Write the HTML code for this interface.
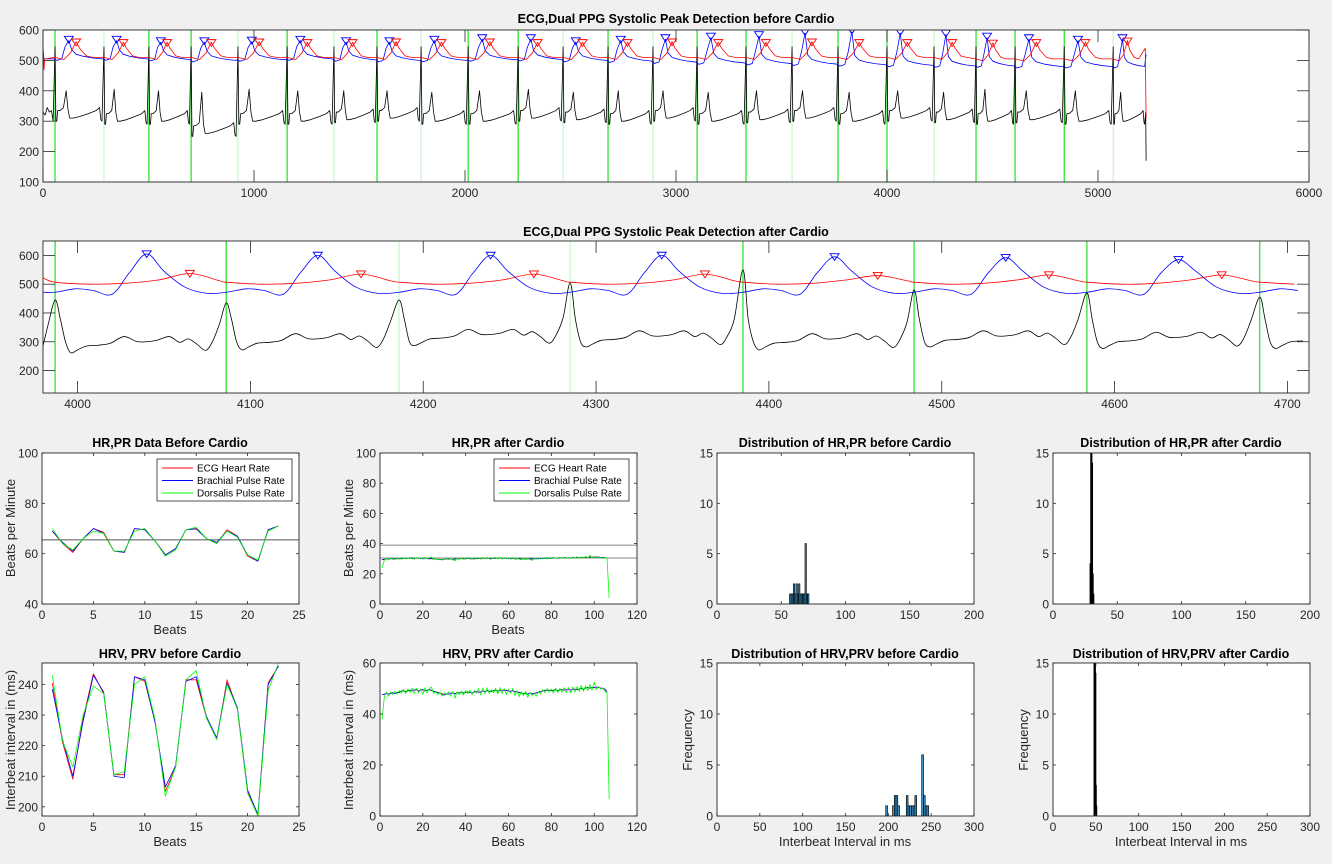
<!DOCTYPE html>
<html><head><meta charset="utf-8">
<style>
html,body{margin:0;padding:0;background:#f0f0f0;}
svg{display:block;font-family:"Liberation Sans",sans-serif;}
</style></head>
<body>
<svg id="fig" width="1332" height="864" viewBox="0 0 1332 864" xmlns="http://www.w3.org/2000/svg">
<rect x="0" y="0" width="1332" height="864" fill="#f0f0f0"/>
</svg>
<script>
// ---------- DATA ----------
// Top plot: ECG R-peak sample positions (before cardio)
const topPeaks = [57,289,502,702,924,1157,1379,1583,1792,2015,2252,2465,2678,2891,3100,3332,3550,3768,4000,4223,4422,4607,4840,5072];
const topBright = [1,0,1,1,0,1,0,1,0,1,1,0,1,0,1,1,0,1,1,0,1,1,1,0];
const topEcgBase = [310,300,300,260,300,300,305,310,300,300,310,305,300,310,300,305,310,300,310,305,300,305,300,300];
const topEcgT = [400,405,400,395,405,400,400,400,395,400,405,395,400,400,395,400,400,395,400,395,405,400,400,395];
const topBlueBase = [505,505,503,500,502,505,502,500,500,502,503,500,498,495,492,490,488,486,484,482,482,480,480,480];
const topBluePeak = [565,565,560,560,562,565,560,560,565,570,570,560,565,570,575,580,590,595,590,585,575,570,565,570];
const topRedBase = [505,505,505,505,505,505,505,505,505,505,505,505,505,505,505,505,505,505,505,505,500,500,500,500];
const topRedPeak = [562,560,560,560,562,560,560,562,560,562,560,560,560,562,560,560,562,560,560,560,558,560,560,565];
const topEnd = 5228;

// Second plot: after cardio
const p2Peaks = [3987,4086,4186,4285,4385,4484,4584,4684];
const p2Bright = [1,1,0,0,1,1,1,1];
const p2R = [445,435,445,505,550,480,470,455];
const p2Base = [0,10,25,20,10,20,15,15];
const p2BluePeak = [605,600,600,600,595,592,585];
const p2RedPeak = [537,535,535,535,530,532,532];

// HR, PR before
const hrB_ecg = [69,64,60.5,66,70,68.5,61,60.5,70,69.5,65,59.5,62,69.5,70,66,64,69.5,67,59,57,69.5,71];
const hrB_bra = [69,64.5,61,66,70,68,61,60.5,70,69.5,65,59.5,62,69.5,69.8,66,64.5,69,67,59.5,57,69.5,71];
const hrB_dor = [70,64,61.5,66,69,68,61,61,69,70,65,59,61.5,69.5,70.5,66,64,69,66.5,59.5,57.5,69,71];
const hrB_mean = 65.5;

// HR, PR after
const hrA_ecg = [29.5,29.6,29.8,29.7,29.9,30.0,29.8,30.1,30.0,30.2,30.3,30.1,30.2,30.4,30.3,30.2,30.5,30.3,30.1,30.2,30.4,30.2,30.0,30.1,29.8,29.7,29.6,29.5,29.4,29.6,29.8,29.7,29.9,29.6,29.8,30.0,29.9,30.1,30.0,29.9,30.2,30.1,30.0,29.9,30.0,30.2,30.1,30.3,30.2,30.4,30.3,30.1,30.2,30.4,30.3,30.5,30.2,30.4,30.3,30.2,30.1,30.3,30.0,29.9,30.1,29.8,29.7,29.9,29.8,30.0,29.9,29.8,30.1,30.0,30.2,30.1,30.3,30.2,30.4,30.3,30.5,30.4,30.3,30.6,30.5,30.7,30.6,30.4,30.5,30.7,30.6,30.8,30.7,30.9,30.8,31.0,30.9,31.1,31.0,31.2,31.1,31.0,30.9,30.8,30.7,30.6];
const hrA_bra = [29.3,29.5,29.9,29.6,30.0,30.1,29.7,30.2,29.9,30.3,30.2,30.0,30.3,30.5,30.2,30.1,30.6,30.2,30.0,30.3,30.5,30.1,29.9,30.2,29.7,29.8,29.5,29.4,29.5,29.7,29.9,29.6,30.0,29.5,29.9,30.1,29.8,30.2,29.9,30.0,30.3,30.0,29.9,30.0,30.1,30.3,30.0,30.4,30.1,30.5,30.2,30.0,30.3,30.5,30.2,30.6,30.1,30.5,30.2,30.3,30.0,30.4,29.9,30.0,30.2,29.7,29.8,29.8,29.9,30.1,29.8,29.9,30.2,29.9,30.3,30.0,30.4,30.1,30.5,30.2,30.6,30.3,30.4,30.7,30.4,30.8,30.5,30.5,30.4,30.8,30.5,30.9,30.6,31.0,30.7,31.1,30.8,31.2,30.9,31.3,31.0,31.1,30.8,30.9,30.6,30.5];
const hrA_dor = [24,29.0,30.2,29.3,30.3,29.6,30.5,29.8,30.4,29.6,30.7,29.8,30.6,30.0,31.0,29.5,30.9,29.9,30.5,29.7,31.0,29.8,30.6,31.2,29.4,30.0,29.2,29.8,29.0,29.9,30.1,29.3,30.3,29.2,28.6,30.4,29.5,30.5,29.6,30.3,30.6,29.7,30.2,29.6,30.4,30.6,29.7,30.8,29.8,30.9,29.9,29.7,30.6,30.9,29.8,31.0,29.7,30.9,29.9,30.7,29.6,30.8,29.5,30.4,29.7,29.3,30.2,29.4,30.3,29.5,28.9,30.3,29.7,30.5,29.8,30.6,29.9,30.8,29.9,30.6,30.9,30.1,30.6,31.0,30.1,31.1,30.2,30.9,30.0,31.2,30.2,31.3,30.4,31.1,30.5,31.5,30.4,32.2,30.6,31.4,30.7,30.8,30.7,30.4,30.6,30.3,4];
const hrA_lines = [30.5,39];

// HRV before
const hrvB_ecg = [240.5,221,209,229,243.5,237,210.5,210.5,242.5,241,228,205,213,241.5,241.5,229,222,241.5,232,205,197,240.5,246];
const hrvB_bra = [238.5,222,210,228,243,237.5,210,209.5,242.5,241.5,227.5,206.5,213.5,241,242.5,229.5,222.5,240.5,232.5,205.5,197.5,240,246];
const hrvB_dor = [243,221.5,213,230,239.5,237,210.5,211.5,240,242.5,228.5,203.5,213,241.5,244.5,229,222,240,232,204.5,197,238,247];

// HRV after
const hrvA_ecg = [47.5,47.8,48.0,47.9,48.2,48.3,48.1,48.4,48.6,49.0,49.2,48.8,49.0,49.3,49.1,49.4,49.6,49.2,49.3,49.5,49.1,49.3,49.6,49.2,49.0,48.7,48.5,48.2,47.9,47.6,47.8,47.9,48.1,48.3,48.0,48.2,48.4,48.6,48.3,48.5,48.7,48.4,48.3,48.6,48.8,48.5,48.7,49.0,48.8,49.1,49.0,48.8,49.2,49.3,49.0,49.2,49.4,49.1,49.3,49.0,48.9,49.1,48.8,48.6,48.5,48.2,48.0,48.1,47.9,48.2,48.0,48.1,48.3,48.6,48.8,49.0,49.3,49.2,49.4,49.1,49.3,49.5,49.2,49.4,49.6,49.3,49.5,49.7,49.4,49.6,49.8,49.5,49.8,50.0,49.7,50.2,50.4,50.1,50.5,50.3,50.6,50.4,50.2,50.0,49.8,48.5];
const hrvA_bra = [47.6,47.7,48.2,47.8,48.0,48.4,48.0,48.5,48.4,49.1,49.0,48.7,49.1,49.4,49.0,49.5,49.5,49.0,49.4,49.6,49.0,49.4,49.5,49.3,48.9,48.8,48.4,48.3,47.8,47.4,47.9,47.8,48.2,48.2,47.9,48.3,48.3,48.7,48.2,48.6,48.6,48.5,48.2,48.7,48.7,48.6,48.6,49.1,48.7,49.2,48.9,48.9,49.1,49.4,48.9,49.3,49.3,49.2,49.2,49.1,48.8,49.2,48.7,48.7,48.4,48.3,47.9,48.2,47.8,48.3,47.9,48.2,48.2,48.7,48.7,49.1,49.2,49.3,49.3,49.2,49.2,49.6,49.1,49.5,49.5,49.4,49.4,49.8,49.3,49.7,49.7,49.6,49.7,50.1,49.6,50.3,50.3,50.2,50.4,50.4,50.5,50.5,50.1,50.1,49.7,48.6];
const hrvA_dor = [38,46.5,48.6,47.0,48.7,47.6,48.9,47.8,49.2,48.2,49.6,48.0,49.8,48.4,50.2,48.0,50.1,48.3,49.9,47.7,50.3,48.2,49.9,50.6,48.0,48.8,47.6,48.6,47.0,48.3,47.6,48.7,47.0,48.9,46.2,48.8,47.6,49.0,47.4,49.2,48.0,49.3,47.6,49.2,48.2,50.0,47.5,50.2,47.9,50.3,48.0,49.6,48.2,50.1,47.8,50.4,48.1,50.0,47.6,49.8,48.0,50.1,47.2,49.2,46.8,48.8,47.2,48.9,46.5,48.6,47.3,48.0,47.0,48.7,47.8,49.6,48.3,50.0,48.6,49.8,48.2,50.2,48.4,50.1,48.5,50.3,48.4,50.4,48.2,50.6,48.6,50.7,48.8,51.2,49.0,51.0,49.2,51.6,49.3,52.5,49.5,50.8,49.8,50.2,49.0,48.2,6.5];

// Histograms
const histHrB_bins = [57,58,59,60,61,62,63,64,65,66,67,68,69,70,71];
const histHrB_cnt = [1,1,1,2,1,2,1,2,1,1,1,1,6,1,1];
const histHrA_bins = [29,29.5,30,30.5,31,31.5];
const histHrA_cnt = [4,15,15,14,3,1];
const histHrvB_bins = [198,206,208,210,212,222,224,226,228,230,232,240,242,244,246];
const histHrvB_cnt = [1,1,2,2,1,2,1,1,1,1,2,6,2,1,1];
const histHrvA_bins = [48,48.5,49,49.5,50,50.5];
const histHrvA_cnt = [15,15,15,14,3,1];

// ---------- HELPERS ----------
const svg = document.getElementById('fig');
const NS = 'http://www.w3.org/2000/svg';
function mk(tag, attrs, parent){
  const e = document.createElementNS(NS, tag);
  for (const k in attrs) e.setAttribute(k, attrs[k]);
  (parent||svg).appendChild(e);
  return e;
}
function txt(s, x, y, size, anchor, weight, parent){
  const t = mk('text', {x:x, y:y, 'font-size':size, 'text-anchor':anchor||'middle', fill:'#262626', 'font-weight':weight||'normal'}, parent);
  t.textContent = s;
  return t;
}
function makeAxes(name, x0, y0, x1, y1, xlim, ylim, xticks, yticks, tickLen){
  const g = mk('g', {});
  
  
  const bg = mk('rect', {x:x0, y:y0, width:x1-x0, height:y1-y0, fill:'#fff'}, g);
  
  
  const sx = v => x0 + (v - xlim[0]) / (xlim[1] - xlim[0]) * (x1 - x0);
  const sy = v => y1 - (v - ylim[0]) / (ylim[1] - ylim[0]) * (y1 - y0);
  const clipId = name + '-clip';
  const cp = mk('clipPath', {id: clipId}, g);
  mk('rect', {x:x0, y:y0, width:x1-x0, height:y1-y0}, cp);
  const data = mk('g', {'clip-path':'url(#' + clipId + ')'}, g);
  
  
  const deco = mk('g', {}, g);
  return {g, data, deco, sx, sy, x0, y0, x1, y1, xticks, yticks, tickLen, name};
}
function finishAxes(a){
  const {deco, sx, sy, x0, y0, x1, y1, xticks, yticks, tickLen} = a;
  const xt = mk('g', {}, deco);
  
  
  xticks.forEach(v => {
    const x = sx(v);
    mk('line', {x1:x, y1:y1, x2:x, y2:y1 - tickLen, stroke:'#262626', 'stroke-width':0.8}, xt);
    mk('line', {x1:x, y1:y0, x2:x, y2:y0 + tickLen, stroke:'#262626', 'stroke-width':0.8}, xt);
    txt(String(v), x, y1 + 15, 12, 'middle', 'normal', xt);
  });
  const yt = mk('g', {}, deco);
  
  
  yticks.forEach(v => {
    const y = sy(v);
    mk('line', {x1:x0, y1:y, x2:x0 + tickLen, y2:y, stroke:'#262626', 'stroke-width':0.8}, yt);
    mk('line', {x1:x1, y1:y, x2:x1 - tickLen, y2:y, stroke:'#262626', 'stroke-width':0.8}, yt);
    txt(String(v), x0 - 4, y + 4.5, 12, 'end', 'normal', yt);
  });
  const box = mk('rect', {x:x0, y:y0, width:x1-x0, height:y1-y0, fill:'none', stroke:'#262626', 'stroke-width':0.9}, deco);
  
  
}
function poly(a, pts, color, w, name){
  const d = pts.map((p,i) => (i ? 'L' : 'M') + a.sx(p[0]).toFixed(2) + ',' + a.sy(p[1]).toFixed(2)).join('');
  const p = mk('path', {d:d, fill:'none', stroke:color, 'stroke-width':w||0.8, 'stroke-linejoin':'round'}, a.data);
  
  
  return p;
}
function smooth(a, pts, color, w, name){
  const P = pts.map(p => [a.sx(p[0]), a.sy(p[1])]);
  let d = 'M' + P[0][0].toFixed(2) + ',' + P[0][1].toFixed(2);
  for (let i = 0; i < P.length - 1; i++){
    const p0 = P[Math.max(0,i-1)], p1 = P[i], p2 = P[i+1], p3 = P[Math.min(P.length-1,i+2)];
    const c1 = [p1[0] + (p2[0]-p0[0])/6, p1[1] + (p2[1]-p0[1])/6];
    const c2 = [p2[0] - (p3[0]-p1[0])/6, p2[1] - (p3[1]-p1[1])/6];
    d += 'C' + c1[0].toFixed(2) + ',' + c1[1].toFixed(2) + ' ' + c2[0].toFixed(2) + ',' + c2[1].toFixed(2) + ' ' + p2[0].toFixed(2) + ',' + p2[1].toFixed(2);
  }
  const p = mk('path', {d:d, fill:'none', stroke:color, 'stroke-width':w||0.8}, a.data);
  
  
  return p;
}
function tri(a, xv, yv, color, name){
  const x = a.sx(xv), y = a.sy(yv), s = 4.5;
  const t = mk('path', {d:`M${x-s},${y-s*0.7}L${x+s},${y-s*0.7}L${x},${y+s*0.8}Z`, fill:'none', stroke:color, 'stroke-width':0.9}, a.data);
  
  
}
function vline(a, xv, color, w, name){
  const x = a.sx(xv);
  const l = mk('line', {x1:x, y1:a.y0, x2:x, y2:a.y1, stroke:color, 'stroke-width':w}, a.data);
  
  
}
function hline(a, yv, color, name){
  const y = a.sy(yv);
  const l = mk('line', {x1:a.x0, y1:y, x2:a.x1, y2:y, stroke:color, 'stroke-width':1}, a.data);
  
  
}
function series(arr){ return arr.map((v,i) => [i+1, v]); }
function titleText(s, x, y, name){
  const t = txt(s, x, y, 12.5, 'middle', 'bold');
  t.setAttribute('fill', '#000');
  
  
}
function labelText(s, x, y, name, rot){
  const t = txt(s, x, y, 13, 'middle', 'normal');
  if (rot) t.setAttribute('transform', `rotate(-90 ${x} ${y})`);
  
  
}
function legend(x, y, name){
  const g = mk('g', {});
  
  
  mk('rect', {x:x, y:y, width:135, height:42, fill:'#fff', stroke:'#262626', 'stroke-width':0.8}, g);
  const items = [['ECG Heart Rate','#ff0000'],['Brachial Pulse Rate','#0000ff'],['Dorsalis Pulse Rate','#00ff00']];
  items.forEach((it, i) => {
    const yy = y + 9 + i * 12.5;
    const e = mk('g', {}, g);
    
    
    mk('line', {x1:x+5, y1:yy, x2:x+36, y2:yy, stroke:it[1], 'stroke-width':1}, e);
    txt(it[0], x+40, yy+3.5, 10, 'start', 'normal', e).setAttribute('fill','#000');
  });
}
function bars(a, bins, counts, width, fill, name){
  bins.forEach((b, i) => {
    const xL = a.sx(b - width/2), xR = a.sx(b + width/2);
    const r = mk('rect', {x:xL, y:a.sy(counts[i]), width:Math.max(xR-xL,0.8), height:a.sy(0)-a.sy(counts[i]), fill:fill, stroke:'#000', 'stroke-width':0.7}, a.data);
    
    
  });
}

// ---------- TOP PLOT ----------
(function(){
  const a = makeAxes('ppg-before-plot', 43, 30, 1309, 182, [0,6000], [100,600], [0,1000,2000,3000,4000,5000,6000], [100,200,300,400,500,600], 12);
  topPeaks.forEach((p,i) => vline(a, p, topBright[i] ? '#22e022' : '#bdf5bd', topBright[i] ? 1.2 : 1, 'peak-marker-line'));
  const ecg = [[0,330],[10,320],[20,345],[30,330],[40,335],[48,300]];
  const blue = [[0,540],[4,505]], red = [[0,545],[5,470],[8,505]];
  const ecgOff = [4,8,12,22,38,50,58,66,80,110,150,185,200,206,211];
  const ecgDel = [-10,-10,25,25,35,0,30,0,0,5,15,25,35,-5,-10];
  for (let i = 0; i < topPeaks.length; i++){
    const r = topPeaks[i];
    const nxt = i+1 < topPeaks.length ? topPeaks[i+1] : topEnd;
    const sc = (nxt - r) / 220;
    const b = topEcgBase[i];
    ecg.push([r, 545]);
    ecgOff.forEach((o,k) => {
      const x = r + o * sc;
      if (x < nxt && x <= topEnd) ecg.push([x, k === 5 ? topEcgT[i] : b + ecgDel[k]]);
    });
    const bb = topBlueBase[i], bp = topBluePeak[i];
    [[0,bb],[8,bb-5],[30,bb],[45,bb+40],[62,bp],[75,bb+30],[95,bb+15],[130,bb+8],[170,bb+3],[210,bb]].forEach(q => {
      const x = r + q[0]*sc; if (x < nxt && x <= topEnd) blue.push([x, q[1]]);
    });
    const rb = topRedBase[i], rp = topRedPeak[i];
    [[0,rb+5],[40,rb-2],[70,rb+20],[95,rp],[110,rb+35],[140,rb+10],[170,rb+5]].forEach(q => {
      const x = r + q[0]*sc; if (x < nxt && x <= topEnd) red.push([x, q[1]]);
    });
  }
  ecg.push([topEnd-5, 305],[topEnd-2, 330],[topEnd, 170]);
  blue.push([topEnd, 520]);
  red.push([topEnd-4, 540],[topEnd, 310]);
  poly(a, ecg, '#000', 0.8, 'ecg-signal-before');
  poly(a, blue, '#0000ff', 0.8, 'brachial-ppg-before');
  poly(a, red, '#ff0000', 0.8, 'dorsalis-ppg-before');
  for (let i = 0; i < topPeaks.length; i++){
    const nxt = i+1 < topPeaks.length ? topPeaks[i+1] : topEnd;
    const sc = (nxt - topPeaks[i]) / 220;
    if (topPeaks[i] + 95*sc > topEnd) continue;
    tri(a, topPeaks[i] + 62*sc, topBluePeak[i] + 4, '#0000ff', 'brachial-peak-marker');
    tri(a, topPeaks[i] + 95*sc, topRedPeak[i] - 2, '#ff0000', 'dorsalis-peak-marker');
  }
  finishAxes(a);
  titleText('ECG,Dual PPG Systolic Peak Detection before Cardio', 676, 23, 'ppg-before-title');
})();

// ---------- SECOND PLOT ----------
(function(){
  const a = makeAxes('ppg-after-plot', 43, 241, 1309, 393, [3980,4712.5], [122,650], [4000,4100,4200,4300,4400,4500,4600,4700], [200,300,400,500,600], 12);
  p2Peaks.forEach((p,i) => vline(a, p, p2Bright[i] ? '#22e022' : '#bdf5bd', p2Bright[i] ? 1.2 : 1, 'peak-marker-line'));
  const ecgT = [[3,380],[6,300],[9,262],[13,272],[18,285],[25,288],[32,295],[40,318],[48,300],[58,304],[66,318],[72,298],[77,310],[82,292],[87,270],[91,300],[95,360]];
  const ecg = [[3980,285],[3983,360]];
  const blue = [[3980,472]], red = [[3980,522]];
  p2Peaks.forEach((r,i) => {
    ecg.push([r, p2R[i]]);
    ecgT.forEach(q => { if (r + q[0] <= 4713) ecg.push([r + q[0], q[1] + (q[0] > 6 ? p2Base[i] : 0)]); });
    const bp = p2BluePeak[i] !== undefined ? p2BluePeak[i] : 600;
    const rp = p2RedPeak[i] !== undefined ? p2RedPeak[i] : 535;
    [[0,472],[12,484],[22,478],[33,465],[43,540],[53,bp],[63,545],[75,490],[88,468]].forEach(q => { if (r+q[0] <= 4713) blue.push([r+q[0], q[1]]); });
    [[0,507],[20,500],[40,503],[60,515],[78,rp],[95,512]].forEach(q => { if (r+q[0] <= 4713) red.push([r+q[0], q[1]]); });
  });
  smooth(a, ecg, '#000', 0.8, 'ecg-signal-after');
  smooth(a, blue, '#0000ff', 0.8, 'brachial-ppg-after');
  smooth(a, red, '#ff0000', 0.8, 'dorsalis-ppg-after');
  p2BluePeak.forEach((v,i) => tri(a, p2Peaks[i] + 53, v, '#0000ff', 'brachial-peak-marker'));
  p2RedPeak.forEach((v,i) => tri(a, p2Peaks[i] + 78, v, '#ff0000', 'dorsalis-peak-marker'));
  finishAxes(a);
  titleText('ECG,Dual PPG Systolic Peak Detection after Cardio', 676, 236, 'ppg-after-title');
})();

// ---------- ROW 3 ----------
const cols = [[42,299],[380,637],[717,974],[1053,1310]];
const r3 = [453,604], r4 = [663,816];
(function(){
  const a = makeAxes('hr-before-plot', cols[0][0], r3[0], cols[0][1], r3[1], [0,25], [40,100], [0,5,10,15,20,25], [40,60,80,100], 3);
  hline(a, hrB_mean, '#555', 'mean-hr-line');
  poly(a, series(hrB_ecg), '#ff0000', 0.8, 'ecg-heart-rate-line');
  poly(a, series(hrB_bra), '#0000ff', 0.8, 'brachial-pulse-rate-line');
  poly(a, series(hrB_dor), '#00ff00', 0.8, 'dorsalis-pulse-rate-line');
  finishAxes(a);
  titleText('HR,PR Data Before Cardio', 170, 447, 'hr-before-title');
  labelText('Beats', 170, 634, 'hr-before-x-title');
  labelText('Beats per Minute', 15, 528, 'hr-before-y-title', true);
  legend(157, 459, 'hr-before-legend');
})();
(function(){
  const a = makeAxes('hr-after-plot', cols[1][0], r3[0], cols[1][1], r3[1], [0,120], [0,100], [0,20,40,60,80,100,120], [0,20,40,60,80,100], 3);
  hrA_lines.forEach(v => hline(a, v, '#888', 'hr-reference-line'));
  poly(a, series(hrA_ecg), '#ff0000', 0.8, 'ecg-heart-rate-line');
  poly(a, series(hrA_bra), '#0000ff', 0.8, 'brachial-pulse-rate-line');
  poly(a, series(hrA_dor), '#00ff00', 0.8, 'dorsalis-pulse-rate-line');
  finishAxes(a);
  titleText('HR,PR after Cardio', 508, 447, 'hr-after-title');
  labelText('Beats', 508, 634, 'hr-after-x-title');
  labelText('Beats per Minute', 353, 528, 'hr-after-y-title', true);
  legend(494, 459, 'hr-after-legend');
})();
(function(){
  const a = makeAxes('hr-before-hist', cols[2][0], r3[0], cols[2][1], r3[1], [0,200], [0,15], [0,50,100,150,200], [0,5,10,15], 3);
  bars(a, histHrB_bins, histHrB_cnt, 1, '#3f9fd8', 'hr-before-bar');
  finishAxes(a);
  titleText('Distribution of HR,PR before Cardio', 845, 447, 'hr-before-hist-title');
})();
(function(){
  const a = makeAxes('hr-after-hist', cols[3][0], r3[0], cols[3][1], r3[1], [0,200], [0,15], [0,50,100,150,200], [0,5,10,15], 3);
  bars(a, histHrA_bins, histHrA_cnt, 0.5, '#000', 'hr-after-bar');
  finishAxes(a);
  titleText('Distribution of HR,PR after Cardio', 1181, 447, 'hr-after-hist-title');
})();

// ---------- ROW 4 ----------
(function(){
  const a = makeAxes('hrv-before-plot', cols[0][0], r4[0], cols[0][1], r4[1], [0,25], [197,247], [0,5,10,15,20,25], [200,210,220,230,240], 3);
  poly(a, series(hrvB_ecg), '#ff0000', 0.8, 'ecg-hrv-line');
  poly(a, series(hrvB_bra), '#0000ff', 0.8, 'brachial-prv-line');
  poly(a, series(hrvB_dor), '#00ff00', 0.8, 'dorsalis-prv-line');
  finishAxes(a);
  titleText('HRV, PRV before Cardio', 170, 658, 'hrv-before-title');
  labelText('Beats', 170, 846, 'hrv-before-x-title');
  labelText('Interbeat interval in (ms)', 15, 740, 'hrv-before-y-title', true);
})();
(function(){
  const a = makeAxes('hrv-after-plot', cols[1][0], r4[0], cols[1][1], r4[1], [0,120], [0,60], [0,20,40,60,80,100,120], [0,20,40,60], 3);
  poly(a, series(hrvA_ecg), '#ff0000', 0.8, 'ecg-hrv-line');
  poly(a, series(hrvA_bra), '#0000ff', 0.8, 'brachial-prv-line');
  poly(a, series(hrvA_dor), '#00ff00', 0.8, 'dorsalis-prv-line');
  finishAxes(a);
  titleText('HRV, PRV after Cardio', 508, 658, 'hrv-after-title');
  labelText('Beats', 508, 846, 'hrv-after-x-title');
  labelText('Interbeat interval in (ms)', 353, 740, 'hrv-after-y-title', true);
})();
(function(){
  const a = makeAxes('hrv-before-hist', cols[2][0], r4[0], cols[2][1], r4[1], [0,300], [0,15], [0,50,100,150,200,250,300], [0,5,10,15], 3);
  bars(a, histHrvB_bins, histHrvB_cnt, 2, '#3f9fd8', 'hrv-before-bar');
  finishAxes(a);
  titleText('Distribution of HRV,PRV before Cardio', 845, 658, 'hrv-before-hist-title');
  labelText('Interbeat Interval in ms', 845, 846, 'hrv-before-hist-x-title');
  labelText('Frequency', 692, 740, 'hrv-before-hist-y-title', true);
})();
(function(){
  const a = makeAxes('hrv-after-hist', cols[3][0], r4[0], cols[3][1], r4[1], [0,300], [0,15], [0,50,100,150,200,250,300], [0,5,10,15], 3);
  bars(a, histHrvA_bins, histHrvA_cnt, 0.5, '#000', 'hrv-after-bar');
  finishAxes(a);
  titleText('Distribution of HRV,PRV after Cardio', 1181, 658, 'hrv-after-hist-title');
  labelText('Interbeat Interval in ms', 1181, 846, 'hrv-after-hist-x-title');
  labelText('Frequency', 1028, 740, 'hrv-after-hist-y-title', true);
})();
</script>
</body></html>
